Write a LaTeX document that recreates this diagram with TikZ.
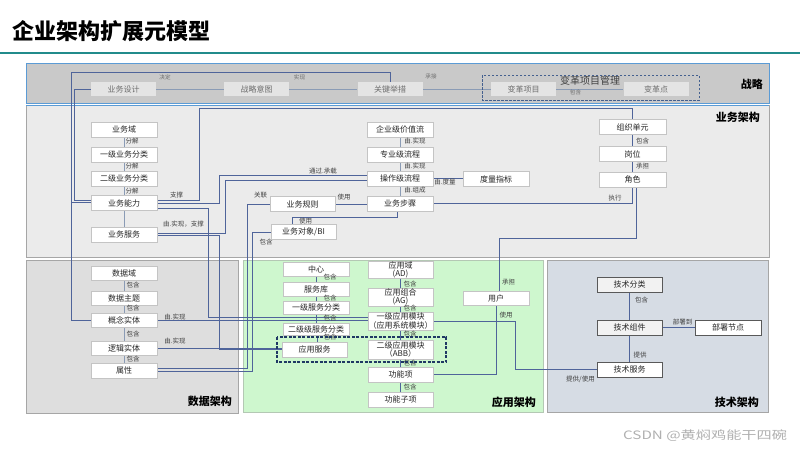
\documentclass[tikz,border=0pt]{standalone}
\usepackage{fontspec}
\setmainfont{Noto Sans CJK SC}
\usetikzlibrary{backgrounds}
\definecolor{teal1}{HTML}{218B8B}
\definecolor{stratfill}{HTML}{C9C9C9}
\definecolor{stratborder}{HTML}{5B9BD5}
\definecolor{sboxfill}{HTML}{E4E4E4}
\definecolor{stext}{HTML}{6E6E6E}
\definecolor{busfill}{HTML}{EBEBEB}
\definecolor{datafill}{HTML}{DEDEDE}
\definecolor{appfill}{HTML}{CEF7CE}
\definecolor{appborder}{HTML}{B4C8B4}
\definecolor{techfill}{HTML}{D6DCE4}
\definecolor{panelborder}{HTML}{A6A6A6}
\definecolor{boxborder}{HTML}{C4C4C4}
\definecolor{boxtext}{HTML}{262626}
\definecolor{labtext}{HTML}{404040}
\definecolor{linecol}{HTML}{4F649A}
\definecolor{slinecol}{HTML}{8A9BB5}
\definecolor{navydash}{HTML}{1F3864}
\definecolor{stratdash}{HTML}{44608F}
\definecolor{techbox}{HTML}{F2F2F2}
\definecolor{techborder}{HTML}{595959}
\definecolor{wmcol}{HTML}{B0B0B0}
\begin{document}
\begin{tikzpicture}[x=1pt,y=-1pt,
  font=\fontsize{8}{9}\selectfont,
  box/.style={draw=boxborder, fill=white, line width=0.6pt, inner sep=0pt,
    minimum width=66, minimum height=15, text=boxtext, align=center},
  tbox/.style={box, draw=techborder, minimum width=65, minimum height=15},
  sbox/.style={fill=sboxfill, draw=none, inner sep=0pt, minimum width=65,
    minimum height=14, text=stext},
  lab/.style={font=\fontsize{6.5}{7}\selectfont, text=labtext, inner sep=0.3pt},
  slab/.style={font=\fontsize{5.6}{6}\selectfont, text=stext, inner sep=0.3pt},
  conn/.style={draw=linecol, line width=0.65pt},
  sconn/.style={draw=slinecol, line width=0.65pt},
  vconn/.style={draw=slinecol, line width=0.8pt},
  ptitle/.style={font=\bfseries\fontsize{11}{12}\selectfont, text=black, inner sep=0pt, anchor=east},
]
\useasboundingbox (0,0) rectangle (800,450);

% title
\node[anchor=west, inner sep=0pt, font=\bfseries\fontsize{22}{24}\selectfont] (title) at (12,31) {企业架构扩展元模型};

% strategy boxes
\node[sbox] (sj) at (123.5,89) {业务设计};
\node[sbox] (zlyt) at (256.5,89) {战略意图};
\node[sbox] (gjjc) at (390,89) {关键举措};
\node[sbox] (bgxm) at (523.5,89) {变革项目};
\node[sbox] (bgd) at (656,89) {变革点};
\node[inner sep=0pt, text=labtext, font=\fontsize{10}{11}\selectfont] (bgxmgl) at (590,81) {变革项目管理};
\node[ptitle] (tzl) at (763,84) {战略};

% business
\node[box] (ywy) at (124,129.5) {业务域};
\node[box] (yjfl) at (124,154.5) {一级业务分类};
\node[box] (ejfl) at (124,178.5) {二级业务分类};
\node[box] (ywnl) at (124,203) {业务能力};
\node[box] (ywfw) at (124,234.5) {业务服务};
\node[box] (qyjz) at (400,129.5) {企业级价值流};
\node[box] (zyjlc) at (400,154.5) {专业级流程};
\node[box] (czjlc) at (400,178.5) {操作级流程};
\node[box] (ywbz) at (400,203.5) {业务步骤};
\node[box] (dlzb) at (496,179) {度量指标};
\node[box, minimum width=65] (ywgz) at (302.5,204) {业务规则};
\node[box, minimum width=65] (ywdx) at (303.5,232) {业务对象/BI};
\node[box, minimum width=67] (zzdy) at (632.5,127) {组织单元};
\node[box, minimum width=67] (gw) at (632.5,154) {岗位};
\node[box, minimum width=67] (js) at (632.5,179.5) {角色};
\node[ptitle] (tyw) at (760,117) {业务架构};

% data
\node[box, minimum height=14] (sjy) at (124,273) {数据域};
\node[box, minimum height=14] (sjzt) at (124,298) {数据主题};
\node[box, minimum height=14] (gnst) at (124,320) {概念实体};
\node[box, minimum height=14] (ljst) at (124,348) {逻辑实体};
\node[box, minimum height=15] (sx) at (124,370.5) {属性};
\node[ptitle] (tsj) at (232,401) {数据架构};

% application
\node[box, minimum height=14] (zx) at (316,269) {中心};
\node[box, minimum height=14] (fwk) at (316,289) {服务库};
\node[box, minimum height=13] (yjfwfl) at (316,307.5) {一级服务分类};
\node[box, minimum height=12] (ejfwfl) at (316,329) {二级级服务分类};
\node[box, minimum width=65] (yyfw) at (314.5,349.5) {应用服务};
\node[box, minimum width=65, minimum height=16, font=\fontsize{8}{8.5}\selectfont] (yyy) at (400.5,270) {应用域\\(AD)};
\node[box, minimum width=65, minimum height=18, font=\fontsize{8}{8.5}\selectfont] (yyzh) at (400.5,297) {应用组合\\(AG)};
\node[box, minimum width=65, minimum height=18, font=\fontsize{8}{8.5}\selectfont] (yjyymk) at (400.5,321) {一级应用模块\\（应用系统模块）};
\node[box, minimum width=65, minimum height=19, font=\fontsize{8}{8.5}\selectfont] (ejyymk) at (400.5,349.5) {二级应用模块\\（ABB）};
\node[box, minimum width=65] (gnx) at (400.5,374.5) {功能项};
\node[box, minimum width=65] (gnzx) at (400.5,399.5) {功能子项};
\node[box, minimum height=14] (yh) at (496,298) {用户};
\node[ptitle] (tyy) at (536,402) {应用架构};

% technology
\node[tbox, fill=techbox] (jsfl) at (629.5,284.5) {技术分类};
\node[tbox, fill=techbox] (jszj) at (629.5,327.5) {技术组件};
\node[tbox] (jsfw) at (629.5,369.5) {技术服务};
\node[tbox, minimum width=66] (bsjd) at (728,327.5) {部署节点};
\node[ptitle] (tjs) at (759,402) {技术架构};

% watermark
\node[anchor=west, inner sep=0pt, text=wmcol, font=\fontsize{11}{12}\selectfont] (wm) at (623,436) {\scalebox{1.38}[1.05]{CSDN @黄焖鸡能干四碗}};

% connector labels
\node[slab] (l1) at (165,77) {决定};
\node[slab] (l2) at (299.5,77) {实现};
\node[slab] (l3) at (431,76) {承接};
\node[slab] (l4) at (575.5,92.5) {包含};
\node[lab] (l5) at (132,141) {分解};
\node[lab] (l6) at (132,166) {分解};
\node[lab] (l7) at (132,191) {分解};
\node[lab] (l8) at (415,141) {由.实现};
\node[lab] (l9) at (415,166) {由.实现};
\node[lab] (l10) at (415,190) {由.组成};
\node[lab] (l11) at (445,182) {由.度量};
\node[lab] (l12) at (323,171) {通过.承载};
\node[lab] (l13) at (260.5,195) {关联};
\node[lab] (l14) at (344,197) {使用};
\node[lab] (l15) at (305.5,221) {使用};
\node[lab] (l16) at (266,242) {包含};
\node[lab] (l17) at (176.5,195) {支撑};
\node[lab] (l18) at (183.5,224) {由.实现，支撑};
\node[lab] (l19) at (642.5,141) {包含};
\node[lab] (l20) at (642.5,166) {承担};
\node[lab] (l21) at (615,198) {执行};
\node[lab] (l22) at (508.5,282) {承担};
\node[lab] (l23) at (506,315) {使用};
\node[lab] (l24) at (580.5,379) {提供/使用};
\node[lab] (l25) at (641.5,300) {包含};
\node[lab] (l26) at (682.5,322.5) {部署到};
\node[lab] (l27) at (640,355) {提供};
\node[lab] (l28) at (133,285) {包含};
\node[lab] (l29) at (133,308) {包含};
\node[lab] (l30) at (133,334) {包含};
\node[lab] (l31) at (133,359) {包含};
\node[lab] (l32) at (175,317) {由.实现};
\node[lab] (l33) at (175,341) {由.实现};
\node[lab] (l34) at (330,277) {包含};
\node[lab] (l35) at (330,298) {包含};
\node[lab] (l36) at (330,318.3) {包含};
\node[lab] (l37) at (330,336.7) {包含};
\node[lab] (l38) at (410,284) {包含};
\node[lab] (l39) at (410,308.3) {包含};
\node[lab] (l40) at (410,334.3) {包含};
\node[lab] (l41) at (410,363.3) {包含};
\node[lab] (l42) at (410,387.3) {包含};

% dashed groups
\draw[stratdash, line width=0.9pt, dash pattern=on 2.5pt off 1.5pt] (482,75) rectangle (699,100);
\draw[navydash, line width=1.1pt, dash pattern=on 3pt off 1.5pt] (277,337) rectangle (446,362);

\begin{scope}[on background layer]
  % panels
  \fill[white] (0,0) rectangle (800,450);
  \draw[teal1, line width=1.6pt] (0,53) -- (800,53);
  \draw[fill=stratfill, draw=stratborder, line width=0.8pt] (26,63) rectangle (769,103.5);
  \draw[fill=busfill, draw=panelborder, line width=0.6pt] (26,105.5) rectangle (769,257);
  \draw[stratborder, line width=0.6pt] (26,105.5) -- (769,105.5);
  \draw[fill=datafill, draw=panelborder, line width=0.6pt] (26,260) rectangle (238,413);
  \draw[fill=appfill, draw=appborder, line width=0.6pt] (243,260) rectangle (543.5,412.5);
  \draw[fill=techfill, draw=panelborder, line width=0.6pt] (547,260) rectangle (768.5,412.5);

  % strategy connectors
  \draw[sconn] (sj.east) -- (zlyt.west);
  \draw[sconn] (zlyt.east) -- (gjjc.west);
  \draw[sconn] (gjjc.east) -- (bgxm.west);
  \draw[sconn] (bgxm.east) -- (bgd.west);
  \draw[conn] (sj.west) -- ++(-16,0) |- ([yshift=3]ywnl.west);
  \draw[conn] (gjjc.north) -- ++(0,-9) -| ([xshift=-19]gnst.west) -- (gnst.west);
  \draw[conn] ([xshift=-19,yshift=1]ywnl.west) -- ([yshift=1]ywnl.west);

  % business verticals
  \draw[vconn] (ywy.south) -- (yjfl.north);
  \draw[vconn] (yjfl.south) -- (ejfl.north);
  \draw[vconn] (ejfl.south) -- (ywnl.north);
  \draw[vconn] (ywnl.south) -- (ywfw.north);
  \draw[vconn] (qyjz.south) -- (zyjlc.north);
  \draw[vconn] (zyjlc.south) -- (czjlc.north);
  \draw[vconn] (czjlc.south) -- (ywbz.north);
  \draw[conn] (zzdy.south) -- (gw.north);
  \draw[conn] (gw.south) -- (js.north);

  % business connectors
  \coordinate (c1) at (199,108);
  \draw[conn] ([yshift=3]ywnl.east) -| (c1) -| (zzdy.north);
  \draw[conn] (ywnl.east) -| (219,175.5) -- (czjlc.west |- 219,175.5);
  \draw[conn] ([yshift=1.5]ywfw.east) -| (225,180.5) -- (czjlc.west |- 225,180.5);
  \draw[conn] ([yshift=-1]ywfw.east) -| (219,349.5) -- (yyfw.west);
  \draw[conn] ([yshift=-5]ywnl.east) -| (208,317) -- (yjyymk.west |- 208,317);
  \draw[conn] (gnst.east) -- (gnst.east -| yjyymk.west);
  \draw[conn] (ljst.east) -- (ljst.east -| yyfw.west);
  \draw[conn] ([yshift=2]sx.east) -| ([xshift=-22]ywgz.west) -- (ywgz.west);
  \draw[conn] ([yshift=-0.5]sx.east) -| ([xshift=-18]ywdx.west) -- (ywdx.west);
  \draw[conn] (ywgz.east) -- (ywgz.east -| ywbz.west);
  \draw[conn] ([xshift=-11]ywdx.north) -- ++(0,-7) -| ([xshift=-3]ywbz.south);
  \draw[conn] (czjlc.east) -- (czjlc.east -| dlzb.west);
  \draw[conn] (ywbz.east) -| (js.south);
  \draw[conn] ([xshift=4]js.south) -- ++(0,51) -| ([xshift=3]yh.north);

  % data verticals
  \draw[vconn] (sjy.south) -- (sjzt.north);
  \draw[vconn] (sjzt.south) -- (gnst.north);
  \draw[vconn] (gnst.south) -- (ljst.north);
  \draw[vconn] (ljst.south) -- (sx.north);

  % application verticals
  \draw[conn] (zx.south) -- (fwk.north);
  \draw[conn] (fwk.south) -- (yjfwfl.north);
  \draw[conn] (yjfwfl.south) -- (ejfwfl.north);
  \draw[conn] ([xshift=1.5]ejfwfl.south) -- ([xshift=3]yyfw.north);
  \draw[conn] (yyy.south) -- (yyzh.north);
  \draw[conn] (yyzh.south) -- (yjyymk.north);
  \draw[conn] (yjyymk.south) -- (ejyymk.north);
  \draw[conn] (ejyymk.south) -- (gnx.north);
  \draw[conn] (gnx.south) -- (gnzx.north);

  % application connectors
  \draw[conn] (gnx.east) -| (yh.south);
  \draw[conn] (yjyymk.east) -- ++(82,0) |- (jsfw.west);

  % technology
  \draw[conn] (jsfl.south) -- (jszj.north);
  \draw[conn] (jszj.east) -- (bsjd.west);
  \draw[conn] (jszj.south) -- (jsfw.north);
\end{scope}
\end{tikzpicture}
\end{document}
